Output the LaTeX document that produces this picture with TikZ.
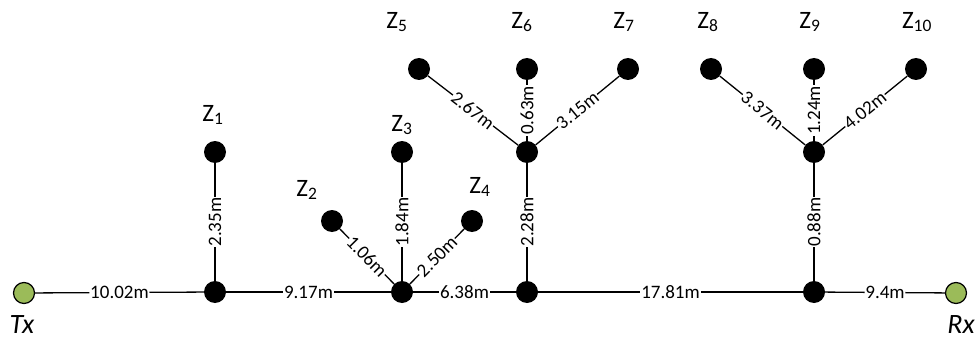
\documentclass[tikz,border=0pt]{standalone}
\usepackage{fontspec}
\setmainfont{Carlito}
\definecolor{tgreen}{RGB}{155,187,89}
\begin{document}
\begin{tikzpicture}[x=1pt,y=-1pt,
  dot/.style={circle,fill=black,inner sep=0pt,minimum size=22pt},
  endpt/.style={circle,draw=black,line width=1.2pt,fill=tgreen,inner sep=0pt,minimum size=21pt},
  wire/.style={line width=1.3pt},
  len/.style={fill=white,inner sep=0.8pt,font=\fontsize{19}{19}\selectfont,sloped,midway},
  zlab/.style={font=\fontsize{25}{25}\selectfont},
  txlab/.style={font=\fontsize{28}{28}\selectfont\itshape}]
\useasboundingbox (0,0) rectangle (978,345);
% nodes
\node[endpt] (tx) at (24,293) {};
\node[endpt] (rx) at (956,293) {};
\node[dot] (j1) at (215,292) {};
\node[dot] (j2) at (402,292) {};
\node[dot] (j3) at (527,292) {};
\node[dot] (j4) at (814,292) {};
\node[dot] (j5) at (527,152) {};
\node[dot] (j6) at (814,152) {};
\node[dot] (z1) at (215,152) {};
\node[dot] (z2) at (332,221) {};
\node[dot] (z3) at (402,152) {};
\node[dot] (z4) at (472,221) {};
\node[dot] (z5) at (419,69) {};
\node[dot] (z6) at (527,69) {};
\node[dot] (z7) at (628,69) {};
\node[dot] (z8) at (711,69) {};
\node[dot] (z9) at (814,69) {};
\node[dot] (z10) at (916,69) {};
% labels
\node[zlab] (l1) at (213,115) {Z\textsubscript{1}};
\node[zlab] (l2) at (307,190) {Z\textsubscript{2}};
\node[zlab] (l3) at (402,125) {Z\textsubscript{3}};
\node[zlab] (l4) at (480,187) {Z\textsubscript{4}};
\node[zlab] (l5) at (397,22) {Z\textsubscript{5}};
\node[zlab] (l6) at (522,22) {Z\textsubscript{6}};
\node[zlab] (l7) at (624,22) {Z\textsubscript{7}};
\node[zlab] (l8) at (708,22) {Z\textsubscript{8}};
\node[zlab] (l9) at (810,22) {Z\textsubscript{9}};
\node[zlab] (l10) at (917,22) {Z\textsubscript{10}};
\node[txlab] (ltx) at (22,325) {Tx};
\node[txlab] (lrx) at (961,325) {Rx};
% wires
\draw[wire] (tx) -- node[len] {10.02m} (j1);
\draw[wire] (j1) -- node[len] {9.17m} (j2);
\draw[wire] (j2) -- node[len] {6.38m} (j3);
\draw[wire] (j3) -- node[len] {17.81m} (j4);
\draw[wire] (j4) -- node[len] {9.4m} (rx);
\draw[wire] (j1) -- node[len] {2.35m} (z1);
\draw[wire] (z2) -- node[len] {1.06m} (j2);
\draw[wire] (j2) -- node[len] {1.84m} (z3);
\draw[wire] (j2) -- node[len] {2.50m} (z4);
\draw[wire] (j3) -- node[len] {2.28m} (j5);
\draw[wire] (z5) -- node[len] {2.67m} (j5);
\draw[wire] (j5) -- node[len] {0.63m} (z6);
\draw[wire] (j5) -- node[len] {3.15m} (z7);
\draw[wire] (j4) -- node[len] {0.88m} (j6);
\draw[wire] (z8) -- node[len] {3.37m} (j6);
\draw[wire] (j6) -- node[len] {1.24m} (z9);
\draw[wire] (j6) -- node[len] {4.02m} (z10);
\end{tikzpicture}
\end{document}
